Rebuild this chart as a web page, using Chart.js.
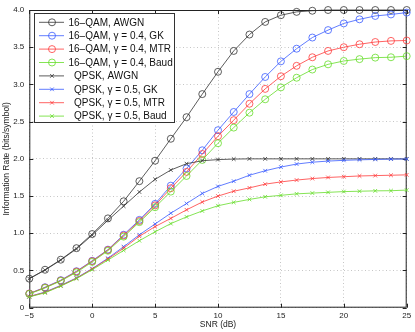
<!DOCTYPE html>
<html>
<head>
<meta charset="utf-8">
<script src="https://cdn.jsdelivr.net/npm/chart.js@4/dist/chart.umd.min.js"></script>
<style>
html,body{margin:0;padding:0;background:#fff;}
#wrap{width:415px;height:332px;position:relative;}
</style>
</head>
<body>
<div id="wrap"><canvas id="c" width="415" height="332"></canvas></div>
<script>
const snr = [-5,-3.75,-2.5,-1.25,0,1.25,2.5,3.75,5,6.25,7.5,8.75,10,11.25,12.5,13.75,15,16.25,17.5,18.75,20,21.25,22.5,23.75,25];

const qam16Awgn = [0.39,0.51,0.645,0.80,0.99,1.20,1.43,1.70,1.975,2.27,2.56,2.87,3.17,3.45,3.67,3.84,3.93,3.975,3.99,4.0,4.0,4.0,4.0,4.0,4.0];
const qam16Gk   = [0.19,0.275,0.37,0.49,0.63,0.78,0.98,1.18,1.395,1.64,1.87,2.115,2.385,2.63,2.87,3.10,3.31,3.48,3.63,3.73,3.82,3.875,3.92,3.94,3.965];
const qam16Mtr  = [0.19,0.27,0.365,0.485,0.625,0.775,0.97,1.165,1.375,1.605,1.825,2.065,2.305,2.52,2.74,2.94,3.11,3.25,3.365,3.45,3.50,3.54,3.57,3.585,3.59];
const qam16Baud = [0.185,0.265,0.36,0.475,0.615,0.765,0.955,1.15,1.35,1.56,1.77,1.985,2.21,2.42,2.62,2.80,2.96,3.09,3.20,3.27,3.315,3.34,3.36,3.365,3.38];

const qpskAwgn = [0.39,0.505,0.64,0.79,0.975,1.175,1.365,1.555,1.725,1.85,1.935,1.975,1.99,1.997,2.0,2.0,2.0,2.0,2.0,2.0,2.0,2.0,2.0,2.0,2.0];
const qpskGk   = [0.15,0.21,0.30,0.40,0.525,0.665,0.82,0.98,1.125,1.27,1.40,1.535,1.63,1.70,1.78,1.84,1.89,1.93,1.955,1.97,1.98,1.987,1.992,1.996,1.998];
const qpskMtr  = [0.15,0.205,0.295,0.395,0.52,0.655,0.80,0.96,1.09,1.20,1.315,1.42,1.50,1.565,1.61,1.66,1.69,1.715,1.735,1.75,1.76,1.77,1.775,1.78,1.785];
const qpskBaud = [0.145,0.20,0.29,0.39,0.51,0.64,0.77,0.90,1.02,1.13,1.22,1.30,1.37,1.415,1.455,1.49,1.51,1.53,1.54,1.55,1.56,1.565,1.57,1.572,1.58];

const seriesLabels = [
  '16\u2013QAM, AWGN',
  '16\u2013QAM, \u03b3 = 0.4, GK',
  '16\u2013QAM, \u03b3 = 0.4, MTR',
  '16\u2013QAM, \u03b3 = 0.4, Baud',
  '  QPSK, AWGN',
  '  QPSK, \u03b3 = 0.5, GK',
  '  QPSK, \u03b3 = 0.5, MTR',
  '  QPSK, \u03b3 = 0.5, Baud'
];
const seriesValues = [qam16Awgn, qam16Gk, qam16Mtr, qam16Baud, qpskAwgn, qpskGk, qpskMtr, qpskBaud];
const xTicks = [-5, 0, 5, 10, 15, 20, 25];
const yTicks = [0, 0.5, 1, 1.5, 2, 2.5, 3, 3.5, 4];

const colors = ['#333333', '#3a5cff', '#ff3b3b', '#66dd2a', '#333333', '#3a5cff', '#ff3b3b', '#66dd2a'];
const styles = ['circle','circle','circle','circle','crossRot','crossRot','crossRot','crossRot'];

const datasets = seriesValues.map((vals, i) => ({
  label: seriesLabels[i],
  data: snr.map((x, k) => ({x: x, y: vals[k]})),
  borderColor: colors[i],
  backgroundColor: 'rgba(0,0,0,0)',
  borderWidth: 0.8,
  pointStyle: styles[i],
  pointRadius: styles[i] === 'circle' ? 3.5 : 2.6,
  pointBorderWidth: 0.8,
  pointBorderColor: colors[i],
  pointBackgroundColor: 'rgba(0,0,0,0)',
  tension: 0,
  clip: false,
  order: 7 - i
}));

const FONT = '"Liberation Sans", Arial, Helvetica, sans-serif';

const framePlugin = {
  id: 'frame',
  beforeDatasetsDraw(chart) {
    const {ctx, chartArea: a, scales} = chart;
    ctx.save();
    ctx.strokeStyle = '#222';
    ctx.lineWidth = 1;
    ctx.strokeRect(a.left + 0.5, a.top + 0.5, a.right - a.left - 1, a.bottom - a.top - 1);
    const tl = 4;
    ctx.beginPath();
    xTicks.forEach(v => {
      const px = Math.round(scales.x.getPixelForValue(v)) + 0.5;
      ctx.moveTo(px, a.bottom); ctx.lineTo(px, a.bottom - tl);
      ctx.moveTo(px, a.top); ctx.lineTo(px, a.top + tl);
    });
    yTicks.forEach(v => {
      const py = Math.round(scales.y.getPixelForValue(v)) + 0.5;
      ctx.moveTo(a.left, py); ctx.lineTo(a.left + tl, py);
      ctx.moveTo(a.right, py); ctx.lineTo(a.right - tl, py);
    });
    ctx.stroke();
    ctx.restore();
  }
};

const legendPlugin = {
  id: 'boxLegend',
  afterDraw(chart) {
    const {ctx} = chart;
    const left = 34, top = 13, right = 175, bottom = 123;
    ctx.save();
    ctx.fillStyle = '#fff';
    ctx.fillRect(left, top, right - left, bottom - top);
    ctx.strokeStyle = '#333';
    ctx.lineWidth = 1;
    ctx.strokeRect(left + 0.5, top + 0.5, right - left - 1, bottom - top - 1);
    const y0 = 22.3, dy = 13.4;
    chart.data.datasets.forEach((ds, i) => {
      const y = y0 + i * dy;
      ctx.strokeStyle = ds.borderColor;
      ctx.fillStyle = 'rgba(0,0,0,0)';
      ctx.lineWidth = 0.8;
      ctx.beginPath();
      ctx.moveTo(39, y); ctx.lineTo(64, y);
      ctx.stroke();
      Chart.helpers.drawPoint(ctx, {pointStyle: ds.pointStyle, radius: ds.pointRadius, borderWidth: 0.8, rotation: 0}, 52, y);
      ctx.fillStyle = '#111';
      ctx.font = '10px ' + FONT;
      ctx.textBaseline = 'middle';
      ctx.textAlign = 'left';
      ctx.fillText(ds.label, 68.5, y + 0.5);
    });
    ctx.restore();
  }
};

new Chart(document.getElementById('c'), {
  type: 'line',
  data: {datasets},
  options: {
    responsive: false,
    animation: false,
    devicePixelRatio: 1,
    layout: {padding: {left: 0, top: 10, right: 8.3, bottom: 0}},
    plugins: {legend: {display: false}, tooltip: {enabled: false}},
    scales: {
      x: {
        type: 'linear',
        min: -5, max: 25,
        afterBuildTicks: s => { s.ticks = xTicks.map(v => ({value: v})); },
        afterFit: s => { s.height = 24.3; },
        ticks: {
          color: '#222', padding: 3, maxRotation: 0,
          font: {family: FONT, size: 8},
          callback: v => String(v).replace('-', '\u2212')
        },
        grid: {color: '#b8b8b8', lineWidth: 0.8, drawTicks: false},
        border: {display: false, dash: [1, 2.5]},
        title: {display: true, text: 'SNR (dB)', color: '#222', font: {family: FONT, size: 8.5}, padding: {top: 0, bottom: 2}}
      },
      y: {
        type: 'linear',
        min: 0, max: 4,
        afterBuildTicks: s => { s.ticks = yTicks.map(v => ({value: v})); },
        afterFit: s => { s.width = 29.3; },
        ticks: {
          color: '#222', padding: 5,
          font: {family: FONT, size: 8}
        },
        grid: {color: '#b8b8b8', lineWidth: 0.8, drawTicks: false},
        border: {display: false, dash: [1, 2.5]},
        title: {display: true, text: 'Information Rate (bits/symbol)', color: '#222', font: {family: FONT, size: 8.5}, padding: {top: 2, bottom: 0}}
      }
    }
  },
  plugins: [framePlugin, legendPlugin]
});
</script>
</body>
</html>
